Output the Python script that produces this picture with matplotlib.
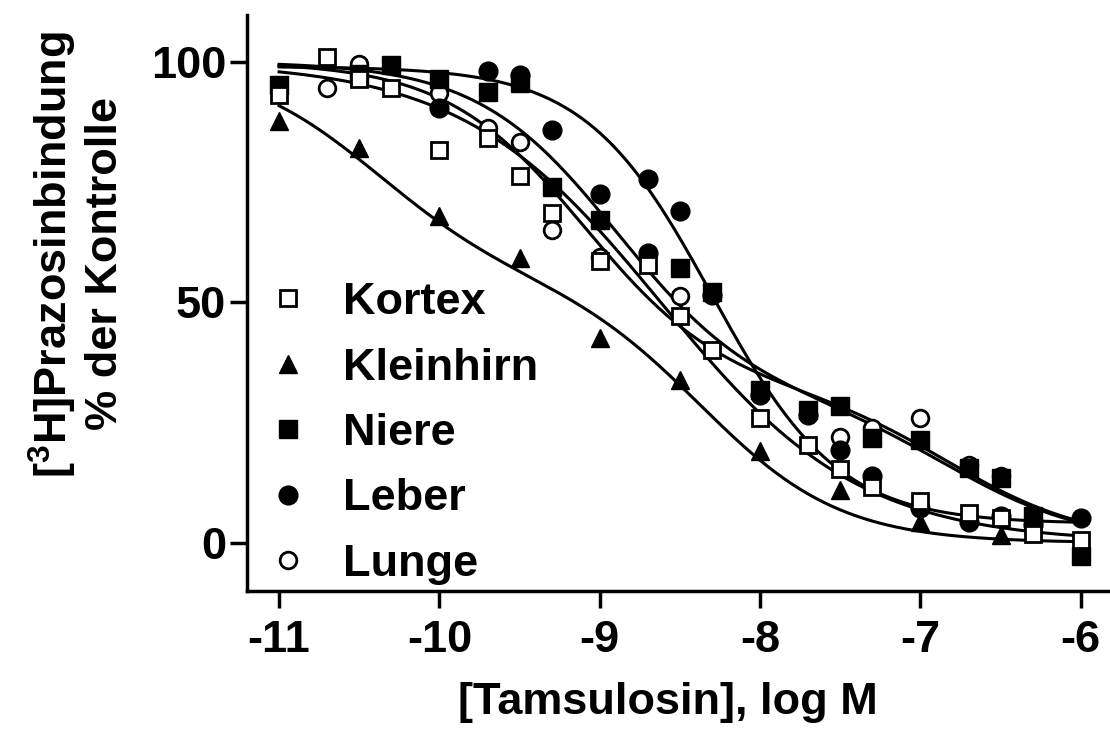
import numpy as np
import matplotlib
matplotlib.use('Agg')
import matplotlib.pyplot as plt

plt.rcParams['font.family'] = 'Liberation Sans'
plt.rcParams['font.weight'] = 'bold'
plt.rcParams['axes.unicode_minus'] = False
plt.rcParams['mathtext.fontset'] = 'custom'
plt.rcParams['mathtext.rm'] = 'Liberation Sans:bold'
plt.rcParams['mathtext.bf'] = 'Liberation Sans:bold'
plt.rcParams['mathtext.default'] = 'bf'

FS = 32.5

# measured binding, % of control, vs log [tamsulosin]
kortex_x = [-11, -10.7, -10.5, -10.3, -10, -9.7, -9.5, -9.3, -9, -8.7, -8.5,
            -8.3, -8, -7.7, -7.5, -7.3, -7, -6.7, -6.5, -6.3, -6]
kortex_y = [93.1, 101.0, 96.4, 94.5, 81.7, 84.2, 76.3, 68.5, 58.6, 57.8, 47.2,
            40.0, 26.0, 20.4, 15.4, 11.7, 8.6, 6.2, 5.2, 1.9, 0.5]

kleinhirn_x = [-11, -10.5, -10, -9.5, -9, -8.5, -8, -7.5, -7, -6.5, -6]
kleinhirn_y = [87.7, 82.0, 68.0, 59.3, 42.5, 33.9, 19.0, 11.0, 4.4, 1.7, -2.5]

niere_x = [-11, -10.5, -10.3, -10, -9.7, -9.5, -9.3, -9, -8.5, -8.3, -8,
           -7.7, -7.5, -7.3, -7, -6.7, -6.5, -6.3, -6]
niere_y = [95.2, 97.5, 99.4, 96.3, 93.8, 95.5, 74.0, 67.2, 57.2, 52.2, 31.8,
           27.6, 28.5, 21.8, 21.4, 15.6, 13.5, 5.5, -2.8]

leber_x = [-10, -9.7, -9.5, -9.3, -9, -8.7, -8.7, -8.5, -8.3, -8, -7.7,
           -7.5, -7.3, -7, -6.7, -6.5, -6.3, -6]
leber_y = [90.4, 98.0, 97.3, 85.9, 72.5, 75.6, 60.3, 69.0, 51.5, 30.8, 26.6,
           19.3, 13.8, 7.2, 4.4, 5.5, 3.7, 5.1]

lunge_x = [-10.7, -10.5, -10, -9.7, -9.5, -9.3, -9, -8.5, -7.5, -7.3, -7,
           -6.7, -6.5]
lunge_y = [94.5, 99.6, 93.5, 86.3, 83.4, 65.0, 59.5, 51.4, 22.1, 23.9, 26.0,
           16.2, 13.8]

# fitted curve parameters
kortex_fit = dict(top=100, bottom=0, logic50=-8.62, hill=0.7)
leber_fit = dict(top=99, bottom=4, logic50=-8.3, hill=1.1)
kleinhirn_fit = dict(frac=0.45, log1=-10.4, log2=-8.35)
niere_fit = dict(frac=0.7, log1=-8.9, log2=-6.8)
lunge_fit = dict(frac=0.68, log1=-9.1, log2=-6.8)


def one_site(x, top, bottom, logic50, hill):
    return bottom + (top - bottom) / (1 + 10 ** (hill * (x - logic50)))


def two_site(x, frac, log1, log2, top=100, bottom=0):
    return bottom + (top - bottom) * (frac / (1 + 10 ** (x - log1)) +
                                      (1 - frac) / (1 + 10 ** (x - log2)))


xx = np.linspace(-11, -6, 400)

fig = plt.figure(figsize=(11.1, 7.44), dpi=100)
ax = fig.add_axes([247 / 1110, 1 - 591 / 744, 861 / 1110, 576 / 744])

lw = 2.2
ax.plot(xx, one_site(xx, **kortex_fit), color='black', lw=lw, zorder=2)
ax.plot(xx, two_site(xx, **kleinhirn_fit), color='black', lw=lw, zorder=2)
ax.plot(xx, two_site(xx, **niere_fit), color='black', lw=lw, zorder=2)
ax.plot(xx, one_site(xx, **leber_fit), color='black', lw=lw, zorder=2)
ax.plot(xx, two_site(xx, **lunge_fit), color='black', lw=lw, zorder=2)

h_lunge, = ax.plot(lunge_x, lunge_y, ls='none', marker='o', ms=12, mew=2,
                   mfc='white', mec='black', zorder=3, label='Lunge')
h_niere, = ax.plot(niere_x, niere_y, ls='none', marker='s', ms=13, mew=1,
                   mfc='black', mec='black', zorder=4, label='Niere')
h_leber, = ax.plot(leber_x, leber_y, ls='none', marker='o', ms=13.5, mew=1,
                   mfc='black', mec='black', zorder=4, label='Leber')
h_klein, = ax.plot(kleinhirn_x, kleinhirn_y, ls='none', marker='^', ms=13.5,
                   mew=1, mfc='black', mec='black', zorder=4, label='Kleinhirn')
h_kortex, = ax.plot(kortex_x, kortex_y, ls='none', marker='s', ms=12, mew=2,
                    mfc='white', mec='black', zorder=5, label='Kortex')

ax.legend(handles=[h_kortex, h_klein, h_niere, h_leber, h_lunge],
          loc='upper left', bbox_to_anchor=(0.0215, 0.536), frameon=False,
          fontsize=FS, handlelength=1.0, handletextpad=0.72, labelspacing=0.54,
          borderpad=0, borderaxespad=0, numpoints=1)

ax.set_xlim(-11.2, -5.83)
ax.set_ylim(-10, 109.7)
ax.set_xticks([-11, -10, -9, -8, -7, -6])
ax.set_yticks([0, 50, 100])
ax.spines['top'].set_visible(False)
ax.spines['right'].set_visible(False)
for s in ['left', 'bottom']:
    ax.spines[s].set_linewidth(2.5)
ax.tick_params(axis='both', length=12, width=2.5, labelsize=FS)
ax.tick_params(axis='y', pad=3)
ax.tick_params(axis='x', pad=9)

ax.set_xlabel('[Tamsulosin], log M', fontsize=FS, fontweight='bold')
ax.xaxis.set_label_coords((668 - 247) / 861, (591 - 682) / 576)

fig.text(53 / 1110, 1 - 255 / 744, r'[$^3$H]Prazosinbindung', rotation=90,
         ha='center', va='center', fontsize=FS, fontweight='bold')
fig.text(106 / 1110, 1 - 263 / 744, '% der Kontrolle', rotation=90,
         ha='center', va='center', fontsize=FS, fontweight='bold')

fig.savefig('out.png', dpi=100)
